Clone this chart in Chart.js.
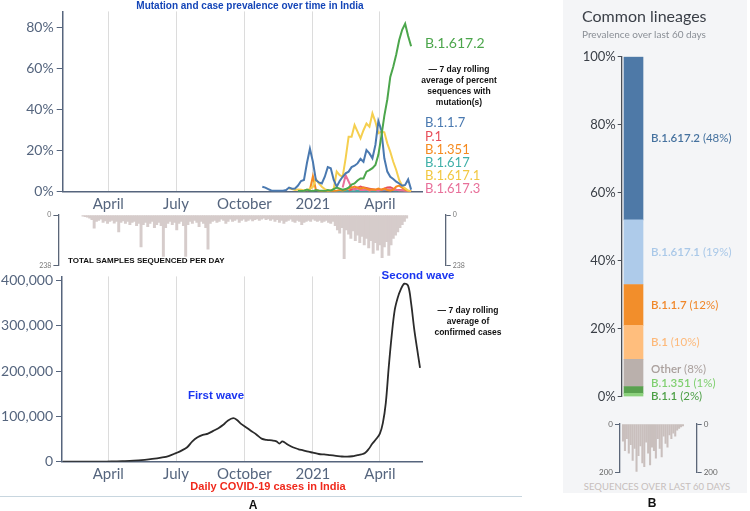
<!DOCTYPE html>
<html>
<head>
<meta charset="utf-8">
<script src="https://cdn.jsdelivr.net/npm/chart.js@4.4.1/dist/chart.umd.min.js"></script>
<style>
  body { margin: 0; width: 750px; height: 511px; background: #fff; position: relative; overflow: hidden; font-family: Lato, sans-serif; }
  canvas { position: absolute; }
  .t { position: absolute; white-space: nowrap; line-height: 1; }
  .c { transform: translate(-50%, -50%); text-align: center; }
  .l { transform: translateY(-50%); }
  .b { font-family: "Liberation Sans", Arial, sans-serif; font-weight: bold; }
</style>
</head>
<body>
<div style="position:absolute;left:563px;top:0;width:184px;height:493px;background:#f4f5f7"></div>
<div style="position:absolute;left:0;top:496px;width:522px;height:1px;background:#c8d6df"></div>

<canvas id="lines" width="440" height="215" style="left:0;top:0"></canvas>
<canvas id="seq" width="470" height="70" style="left:0;top:205px"></canvas>
<canvas id="cases" width="440" height="225" style="left:0;top:265px"></canvas>
<canvas id="lineages" width="184" height="370" style="left:563px;top:40px"></canvas>
<canvas id="mini" width="184" height="66" style="left:563px;top:414px"></canvas>

<!-- texts -->
<div class="t c b" style="left:250px;top:6px;font-size:10px;color:#1546b8">Mutation and case prevalence over time in India</div>
<div class="t l" style="left:425px;top:43px;font-size:14px;color:#4ca64c">B.1.617.2</div>
<div class="t c b" style="left:459px;top:86px;font-size:8.5px;line-height:11px;color:#111">— 7 day rolling<br>average of percent<br>sequences with<br>mutation(s)</div>
<div class="t l" style="left:425px;top:122px;font-size:13px;color:#4a79b0">B.1.1.7</div>
<div class="t l" style="left:425px;top:135.5px;font-size:13px;color:#e8505b">P.1</div>
<div class="t l" style="left:425px;top:149px;font-size:13px;color:#f58a1f">B.1.351</div>
<div class="t l" style="left:425px;top:162px;font-size:13px;color:#3fb0a8">B.1.617</div>
<div class="t l" style="left:425px;top:175px;font-size:13px;color:#f2c842">B.1.617.1</div>
<div class="t l" style="left:425px;top:188px;font-size:13px;color:#e8709a">B.1.617.3</div>

<div class="t l b" style="left:68px;top:261px;font-size:8px;color:#111">TOTAL SAMPLES SEQUENCED PER DAY</div>

<div class="t c b" style="left:418px;top:276px;font-size:11.5px;color:#1a35f0">Second wave</div>
<div class="t c b" style="left:216px;top:396px;font-size:11.5px;color:#1a35f0">First wave</div>
<div class="t c b" style="left:468px;top:321px;font-size:8.5px;line-height:11px;color:#111">— 7 day rolling<br>average of<br>confirmed cases</div>
<div class="t c b" style="left:268px;top:486px;font-size:11px;color:#f0291c">Daily COVID-19 cases in India</div>
<div class="t c b" style="left:253px;top:505px;font-size:12px;color:#111">A</div>

<div class="t l" style="left:582px;top:16px;font-size:16px;color:#3a3f47">Common lineages</div>
<div class="t l" style="left:582px;top:34px;font-size:10px;color:#8a8f96">Prevalence over last 60 days</div>
<div class="t c" style="left:657px;top:487px;font-size:9.5px;color:#c6bebc">SEQUENCES OVER LAST 60 DAYS</div>
<div class="t c b" style="left:652px;top:503px;font-size:12px;color:#111">B</div>

<script>
// ---- data ----
// x positions are day numbers counted from 1 Jan 2020 (day 91 = 1 Apr 2020)
const monthTickDays = [91, 182, 274, 366, 456];
const monthTickLabels = ['April', 'July', 'October', '2021', 'April'];

// mutation prevalence (%), 7 day rolling average, every 4 days from day 298
const lineDays = Array.from({ length: 51 }, (_, i) => 298 + 4 * i);
const b16172 = [null, null, null, null, null, null, null, null, null, null, null, null, 0.3, 0.3, 0.5, 1.0, 0.5, 0.3, 0.8, 0.5, 0.5, 0.3, 0.8, 0.5, 1.3, 2.0, 1.5, 1.0, 1.3, 2.0, 3.5, 4.0, 5.5, 6.5, 6.5, 9.8, 10.5, 11.5, 13, 18, 27, 37, 45, 56, 61, 67, 74, 79, 82, 76, 71];
const b117 = [2.4, 2.0, 1.3, 0.6, 0.5, 0.5, 0.5, 0.5, 0.8, 2.0, 1.5, 1.6, 3.0, 5.2, 5.7, 14, 21, 14.6, 5.7, 4.5, 4.0, 7.3, 12, 11.4, 5.7, 2.4, 5.2, 7.3, 9.0, 9.8, 12, 12.7, 13.8, 16, 14.6, 20.3, 18.7, 16.3, 22.8, 34.5, 30, 16.3, 9.8, 7.3, 6.2, 4.9, 4.0, 2.9, 3.3, 6.0, 1.0];
const p1 = [null, null, null, null, null, null, null, null, null, null, null, null, null, null, null, null, null, null, null, null, null, null, null, null, null, null, null, null, null, 0.5, 1.0, 1.5, 2.0, 2.5, 2.0, 1.8, 1.5, 1.2, 1.0, 0.8, 0.8, 1.5, 2.0, 2.2, 1.5, 1.0, 0.8, 0.6, 0.5, 0.3, 0.2];
const b1351 = [null, null, null, null, null, null, null, null, null, null, null, null, null, null, null, 0.5, 1.0, 7.5, 1.0, 0.5, 0.3, 0.5, 0.3, 0.5, 0.3, 0.5, 0.8, 0.5, 1.0, 1.5, 2.0, 2.5, 2.0, 1.5, 2.0, 1.5, 1.0, 1.2, 1.0, 1.5, 1.0, 1.5, 0.8, 0.5, 1.0, 2.5, 3.0, 2.0, 1.0, 0.5, 0.2];
const b1617 = [null, null, null, null, null, null, null, null, null, null, null, null, null, null, null, null, null, null, null, null, null, null, null, null, 0.2, 0.3, 0.2, 0.3, 0.4, 0.3, 0.2, 0.3, 0.5, 0.3, 0.4, 0.3, 0.5, 0.4, 0.3, 0.5, 0.6, 0.8, 1.0, 0.8, 0.6, 0.5, 0.7, 0.5, 0.4, 0.3, 0.2];
const b16171 = [null, null, null, null, null, null, null, null, null, 1.6, 1.3, 0.8, 1.1, 1.0, 0.6, 0.8, 1.3, 2.4, 6.2, 4.0, 2.4, 1.3, 0.6, 0.6, 1.3, 9.8, 8.1, 7.3, 16.3, 26.8, 26.8, 32.5, 29.3, 26, 30, 33.3, 31.7, 38.2, 34.1, 28.5, 29.3, 29, 23.6, 19.5, 14.6, 10.6, 5.7, 2.9, 1.6, 0.6, 0.3];
const b16173 = [null, null, null, null, null, null, null, null, null, null, null, null, null, null, null, null, null, null, null, null, null, null, null, null, null, null, null, 2.0, 8.0, 5.0, 2.0, 1.0, 1.5, 0.8, 0.8, 1.0, 0.5, 1.0, 0.8, 0.5, 1.0, 1.2, 1.0, 1.2, 0.8, 1.0, 0.6, 0.8, 0.5, 0.3, 0.2];

// total samples sequenced, every 3 days from day 57
const seqDays = Array.from({ length: 146 }, (_, i) => 57 + 3 * i);
const seqCounts = [5, 8, 10, 15, 22, 62, 30, 25, 20, 35, 28, 40, 30, 25, 38, 30, 80, 35, 28, 40,
  30, 45, 35, 30, 50, 40, 150, 45, 35, 55, 40, 30, 60, 45, 35, 50, 195, 60, 40, 30,
  45, 35, 70, 40, 30, 50, 195, 45, 30, 40, 25, 35, 55, 30, 40, 60, 160, 40, 30, 25,
  35, 30, 20, 25, 40, 30, 20, 30, 25, 20, 35, 25, 20, 30, 25, 20, 28, 22, 18, 25,
  20, 15, 22, 18, 25, 20, 30, 22, 35, 25, 40, 30, 25, 20, 30, 35, 25, 30, 45, 35,
  30, 25, 30, 20, 25, 30, 25, 35, 30, 25, 35, 40, 30, 50, 70, 85, 60, 205, 70, 90,
  110, 75, 120, 95, 130, 100, 140, 110, 155, 120, 180, 130, 165, 140, 200, 150, 125, 190, 140, 110,
  95, 80, 60, 45, 30, 15];

// daily cases in India, 7 day rolling average
const caseDays = [30, 60, 75, 85, 95, 110, 125, 140, 150, 162, 172, 182, 190, 197, 204, 211, 218, 225, 232, 239,
  246, 252, 259, 264, 269, 276, 283, 290, 297, 304, 311, 317, 321, 325, 332, 339, 346, 353, 360, 366,
  374, 381, 389, 397, 405, 412, 419, 426, 431, 436, 441, 446, 451, 456, 460, 464, 468, 472, 476, 480,
  484, 489, 494, 498, 502, 506, 510];
const caseVals = [0, 0, 100, 300, 500, 1200, 2200, 4200, 6000, 9000, 12500, 19000, 25000, 32000, 45000, 54000, 59000, 62000, 68000, 74000,
  82000, 91000, 96000, 92000, 84000, 76000, 68000, 60000, 51000, 48000, 47000, 45000, 40000, 45000, 38000, 32000, 28000, 25000, 22000, 20000,
  17000, 16000, 14500, 13000, 11500, 11000, 12000, 14500, 16000, 19000, 28000, 40000, 50000, 62000, 85000, 130000, 210000, 280000, 335000, 362000,
  380000, 393000, 388000, 350000, 295000, 250000, 207000];

// common lineages, last 60 days (stacked bottom to top)
const lineageNames = ['B.1.351', 'B.1.1', 'Other', 'B.1', 'B.1.1.7', 'B.1.617.1', 'B.1.617.2'];
const lineageShares = [1, 2, 8, 10, 12, 19, 48];
const lineageColors = ['#8cd17d', '#59a14f', '#bab0ac', '#ffbe7d', '#f28e2b', '#aecbea', '#4e79a7'];
const lineageTextColors = ['#7fcf6f', '#4c9f45', '#aaa09d', '#fdb97a', '#f0872a', '#a9c8e8', '#46729f'];
const lineageLabelOrder = ['B.1.617.2', 'B.1.617.1', 'B.1.1.7', 'B.1', 'Other', 'B.1.351', 'B.1.1'];

// sequences over the last 60 days (2-day bins)
const miniVals = [70, 110, 60, 120, 85, 150, 100, 195, 130, 90, 160, 175, 75, 120, 168, 95,
  110, 140, 60, 100, 135, 50, 80, 95, 45, 60, 38, 50, 25, 18, 12, 8];

// ---- helpers ----
const axisColor = '#56657d';
const tickColor = '#55657e';
const dayAt = px => 91 + (px - 108.3) / 0.744;

function monthAxis(left, right, h) {
  return {
    type: 'linear', min: dayAt(left), max: dayAt(right),
    afterBuildTicks: s => { s.ticks = monthTickDays.map(v => ({ value: v })); },
    afterFit: s => { s.height = h; },
    ticks: { callback: (v, i) => monthTickLabels[i], color: tickColor, font: { family: 'Lato', size: 15 }, padding: 3, maxRotation: 0, autoSkip: false },
    grid: { color: '#dcdcdc', drawTicks: false, lineWidth: 1 },
    border: { color: axisColor, width: 1.5 }
  };
}

function fixedY(w, extra) {
  return Object.assign({
    afterFit: s => { s.width = w; },
    grid: { drawOnChartArea: false, tickLength: 6, color: axisColor },
    border: { color: axisColor, width: 1.5 },
  }, extra);
}

const noPlugins = { legend: { display: false }, tooltip: { enabled: false } };

// ---- top: prevalence lines ----
const lineSeries = [
  ['B.1.617.2', b16172, '#4ca64c'],
  ['B.1.1.7', b117, '#4a79b0'],
  ['B.1.617.1', b16171, '#f5cf4f'],
  ['B.1.351', b1351, '#f58a1f'],
  ['B.1.617.3', b16173, '#e8709a'],
  ['P.1', p1, '#e8505b'],
  ['B.1.617', b1617, '#3fb0a8']
];

new Chart(document.getElementById('lines'), {
  type: 'line',
  data: {
    labels: lineDays,
    datasets: lineSeries.map(([name, vals, color]) => ({
      label: name,
      data: lineDays.map((d, i) => ({ x: d, y: vals[i] })),
      borderColor: color, borderWidth: 2, pointRadius: 0, tension: 0
    }))
  },
  options: {
    responsive: false, animation: false,
    layout: { padding: { top: 11, right: 17.3, left: 0, bottom: 0 } },
    plugins: noPlugins,
    scales: {
      x: monthAxis(62.7, 422.7, 23.3),
      y: fixedY(62.7, {
        min: 0, max: 88,
        afterBuildTicks: s => { s.ticks = [0, 20, 40, 60, 80].map(v => ({ value: v })); },
        ticks: { callback: v => v + '%', color: tickColor, font: { family: 'Lato', size: 14 }, padding: 3 }
      })
    }
  }
});

// ---- middle: samples sequenced per day ----
const seqAxis = (pos, w) => ({
  position: pos, min: 0, max: 238, reverse: true,
  afterBuildTicks: s => { s.ticks = [{ value: 0 }, { value: 238 }]; },
  afterFit: s => { s.width = w; },
  ticks: { color: '#777', font: { family: 'Lato', size: 7 }, padding: 2 },
  grid: { drawOnChartArea: false, tickLength: 5, color: '#5b6678' },
  border: { color: '#5b6678', width: 1.3 }
});

new Chart(document.getElementById('seq'), {
  type: 'bar',
  data: {
    datasets: [{
      data: seqDays.map((d, i) => ({ x: d, y: seqCounts[i] })),
      backgroundColor: '#d6cccb', barThickness: 2.3, yAxisID: 'y'
    }]
  },
  options: {
    responsive: false, animation: false,
    layout: { padding: { top: 10, bottom: 9.3, left: 0, right: 0 } },
    plugins: noPlugins,
    scales: {
      x: { type: 'linear', display: false, offset: false, min: dayAt(58.4), max: dayAt(445.7) },
      y: seqAxis('left', 58.4),
      y2: seqAxis('right', 24.3)
    }
  }
});

// ---- bottom: daily cases ----
const withCommas = v => String(v).replace(/\B(?=(\d{3})+(?!\d))/g, ',');

new Chart(document.getElementById('cases'), {
  type: 'line',
  data: {
    datasets: [{
      data: caseDays.map((d, i) => ({ x: d, y: caseVals[i] })),
      borderColor: '#2b2b2b', borderWidth: 1.8, pointRadius: 0, tension: 0.35
    }]
  },
  options: {
    responsive: false, animation: false,
    layout: { padding: { top: 9, right: 17.3, left: 0, bottom: 0 } },
    plugins: noPlugins,
    scales: {
      x: monthAxis(62, 422.7, 28.3),
      y: fixedY(62, {
        min: 0, max: 409000,
        afterBuildTicks: s => { s.ticks = [0, 100000, 200000, 300000, 400000].map(v => ({ value: v })); },
        ticks: { callback: v => withCommas(v), color: tickColor, font: { family: 'Lato', size: 14 }, padding: 3 }
      })
    }
  }
});

// ---- right: common lineages stacked bar ----
const segLabels = {
  id: 'segLabels',
  afterDatasetsDraw(chart) {
    const ctx = chart.ctx;
    const zero = chart.scales.y.getPixelForValue(0);
    const pos = {};
    let next = null;
    for (let k = lineageLabelOrder.length - 1; k >= 0; k--) {
      const i = lineageNames.indexOf(lineageLabelOrder[k]);
      const bar = chart.getDatasetMeta(i).data[0];
      const centre = (bar.y + bar.base) / 2;
      const y = next === null ? zero : Math.min(centre, next - 13.5);
      pos[i] = { y, x: bar.x + bar.width / 2 + 8 };
      next = y;
    }
    ctx.save();
    ctx.textBaseline = 'middle';
    lineageNames.forEach((name, i) => {
      const p = pos[i];
      ctx.fillStyle = lineageTextColors[i];
      ctx.font = '600 11.5px Lato';
      ctx.fillText(name, p.x, p.y);
      const w = ctx.measureText(name + ' ').width;
      ctx.font = '400 11.5px Lato';
      ctx.fillText('(' + lineageShares[i] + '%)', p.x + w, p.y);
    });
    ctx.restore();
  }
};

new Chart(document.getElementById('lineages'), {
  type: 'bar',
  data: {
    labels: [''],
    datasets: lineageNames.map((n, i) => ({
      label: n, data: [lineageShares[i]], backgroundColor: lineageColors[i], barThickness: 19
    }))
  },
  options: {
    responsive: false, animation: false,
    layout: { padding: { top: 16.7, bottom: 13.3, left: 0, right: 101.7 } },
    plugins: noPlugins,
    scales: {
      x: { stacked: true, display: false },
      y: {
        stacked: true, min: 0, max: 100,
        afterBuildTicks: s => { s.ticks = [0, 20, 40, 60, 80, 100].map(v => ({ value: v })); },
        afterFit: s => { s.width = 58.7; },
        ticks: { callback: v => v + '%', color: '#3a3f47', font: { family: 'Lato', size: 13 }, padding: 2 },
        grid: { drawOnChartArea: false, tickLength: 4, color: '#4a4f57' },
        border: { color: '#4a4f57', width: 1.3 }
      }
    }
  },
  plugins: [segLabels]
});

// ---- right: sequences over last 60 days ----
const miniAxis = (pos, w) => ({
  position: pos, min: 0, max: 200, reverse: true,
  afterBuildTicks: s => { s.ticks = [{ value: 0 }, { value: 200 }]; },
  afterFit: s => { s.width = w; },
  ticks: { color: '#666', font: { family: 'Lato', size: 8 }, padding: 2 },
  grid: { drawOnChartArea: false, tickLength: 5, color: '#5b6678' },
  border: { color: '#5b6678', width: 1.3 }
});

new Chart(document.getElementById('mini'), {
  type: 'bar',
  data: {
    datasets: [{
      data: miniVals.map((v, i) => ({ x: i, y: v })),
      backgroundColor: '#c9bfbd', barThickness: 1.4, yAxisID: 'y'
    }]
  },
  options: {
    responsive: false, animation: false,
    layout: { padding: { top: 10, bottom: 7.3, left: 0, right: 0 } },
    plugins: noPlugins,
    scales: {
      x: { type: 'linear', display: false, offset: false, min: -1.55, max: 38.1 },
      y: miniAxis('left', 57),
      y2: miniAxis('right', 50.3)
    }
  }
});
</script>
</body>
</html>
